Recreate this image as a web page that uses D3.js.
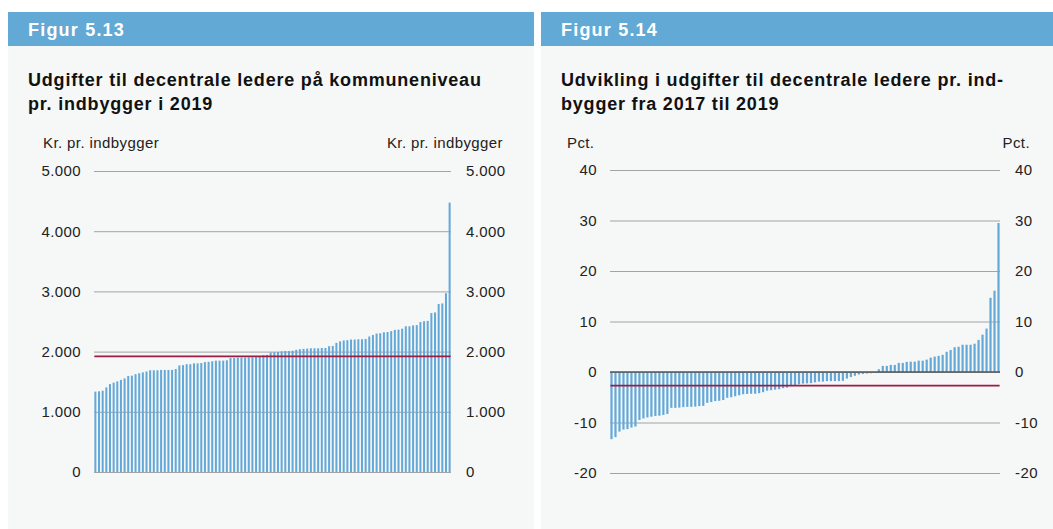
<!DOCTYPE html>
<html>
<head>
<meta charset="utf-8">
<script src="https://cdn.jsdelivr.net/npm/d3@7"></script>
<style>
  body { margin: 0; background: #fff; }
  svg { display: block; font-family: "Liberation Sans", Arial, sans-serif; }
</style>
</head>
<body>
<svg id="chart" width="1053" height="529"></svg>
<script>
"use strict";

// kommuner sorteret efter værdi (98 kommuner)
var kommuner = d3.range(1, 99);

// Figur 5.13: kr. pr. indbygger 2019
var udgifter2019 = [1335, 1340, 1350, 1405, 1460, 1485, 1505, 1530, 1555, 1595,
	1600, 1625, 1640, 1655, 1670, 1690, 1690, 1690, 1695, 1695,
	1695, 1695, 1710, 1770, 1775, 1790, 1790, 1805, 1805, 1810,
	1825, 1830, 1840, 1850, 1850, 1850, 1855, 1895, 1895, 1900,
	1900, 1900, 1905, 1905, 1910, 1910, 1940, 1945, 1985, 1990,
	1995, 2005, 2010, 2010, 2015, 2030, 2040, 2045, 2050, 2055,
	2055, 2055, 2060, 2060, 2090, 2095, 2145, 2170, 2185, 2190,
	2200, 2200, 2205, 2205, 2210, 2250, 2275, 2300, 2305, 2320,
	2325, 2340, 2360, 2365, 2380, 2420, 2420, 2435, 2440, 2490,
	2505, 2510, 2640, 2650, 2790, 2800, 2970, 4475];
var gnsUdgift = 1920;
var ticksKr = [0, 1000, 2000, 3000, 4000, 5000];

// Figur 5.14: udvikling i pct. 2017-2019
var udvikling = [-13.3, -12.9, -11.8, -11.4, -11.3, -11.0, -10.8, -9.5, -9.2, -9.0,
	-8.85, -8.7, -8.65, -8.5, -8.3, -7.1, -7.1, -7.05, -6.95, -6.9,
	-6.9, -6.85, -6.75, -6.7, -6.1, -5.95, -5.75, -5.7, -5.55, -5.1,
	-5.0, -4.8, -4.6, -4.4, -4.35, -4.3, -4.3, -4.2, -4.0, -3.7,
	-3.6, -3.5, -3.4, -3.2, -3.1, -2.8, -2.6, -2.45, -2.3, -2.25,
	-2.2, -2.05, -1.9, -1.9, -1.8, -1.8, -1.8, -1.8, -1.75, -1.3,
	-1.0, -0.75, -0.5, -0.4, -0.3, -0.25, -0.1, 0.55, 1.2, 1.2,
	1.4, 1.4, 1.8, 1.8, 2.0, 2.05, 2.05, 2.25, 2.25, 2.45,
	2.85, 3.05, 3.2, 3.4, 4.0, 4.35, 4.9, 5.0, 5.4, 5.4,
	5.4, 5.6, 6.35, 7.4, 8.6, 14.7, 16.1, 29.5];
var gnsUdvikling = -2.7;
var ticksPct = [-20, -10, 0, 10, 20, 30, 40];

var da = d3.formatLocale({ decimal: ",", thousands: ".", grouping: [3], currency: ["", " kr."], minus: "-" });

var bar_color = "#64a8d8",
	avg_color = "#9b1d45",
	grid_color = "#a3a3a3",
	header_color = "#63a9d5",
	panel_color = "#f6f7f7";

var svg = d3.select("#chart");

function styleLabels(sel) {
	sel.attr("font-size", 15)
		.attr("letter-spacing", 0.4)
		.attr("fill", "#222")
		.attr("font-family", "Liberation Sans, Arial, sans-serif");
}

function drawPanel(p) {
	var g = svg.append("g");

	g.append("rect")
		.attr("x", p.x0).attr("y", 12)
		.attr("width", p.x1 - p.x0).attr("height", 517)
		.attr("fill", panel_color);
	g.append("rect")
		.attr("x", p.x0).attr("y", 12)
		.attr("width", p.x1 - p.x0).attr("height", 34)
		.attr("fill", header_color);

	g.append("text")
		.attr("x", p.x0 + 20).attr("y", 36)
		.attr("fill", "#fff")
		.attr("font-weight", "bold")
		.attr("font-size", 18)
		.attr("letter-spacing", 1.2)
		.text(p.figur);

	g.append("text")
		.attr("font-weight", "bold")
		.attr("font-size", 18)
		.attr("letter-spacing", 0.8)
		.attr("fill", "#111")
		.selectAll("tspan")
		.data(p.title)
		.join("tspan")
			.attr("x", p.x0 + 20)
			.attr("y", function(d, i) { return 86 + i * 24; })
			.text(function(d) { return d; });

	// enhed over akserne
	g.append("text")
		.attr("x", p.unitLeft).attr("y", 148)
		.call(styleLabels)
		.text(p.unit);
	g.append("text")
		.attr("x", p.unitRight).attr("y", 148)
		.attr("text-anchor", "end")
		.call(styleLabels)
		.text(p.unit);

	var x = d3.scaleBand()
		.domain(kommuner)
		.range([p.gx0, p.gx1])
		.paddingInner(0.45)
		.paddingOuter(0.1);

	var y = d3.scaleLinear()
		.domain(p.domain)
		.range([p.yBottom, p.yTop]);

	var gridAxis = d3.axisLeft(y)
		.tickValues(p.ticks)
		.tickSize(-(p.gx1 - p.gx0))
		.tickPadding(13)
		.tickFormat(p.fmt);

	var ga = g.append("g")
		.attr("transform", "translate(" + p.gx0 + ",0)")
		.call(gridAxis);
	ga.select(".domain").remove();
	ga.selectAll(".tick line")
		.attr("stroke", grid_color)
		.attr("stroke-width", 1);
	ga.selectAll(".tick text").call(styleLabels);

	var ra = g.append("g")
		.attr("transform", "translate(" + p.gx1 + ",0)")
		.call(d3.axisRight(y).tickValues(p.ticks).tickSize(0).tickPadding(15).tickFormat(p.fmt));
	ra.select(".domain").remove();
	ra.selectAll(".tick text").call(styleLabels);

	g.append("g")
		.selectAll("rect")
		.data(p.values)
		.join("rect")
			.attr("x", function(d, i) { return x(kommuner[i]); })
			.attr("width", x.bandwidth())
			.attr("y", function(d) { return y(Math.max(0, d)); })
			.attr("height", function(d) { return Math.abs(y(d) - y(0)); })
			.attr("fill", bar_color);

	if (p.domain[0] < 0) {
		g.append("line")
			.attr("x1", p.gx0).attr("x2", p.gx1)
			.attr("y1", y(0)).attr("y2", y(0))
			.attr("stroke", "#555").attr("stroke-width", 1.4);
	}

	g.append("line")
		.attr("x1", x(kommuner[0])).attr("x2", x(kommuner[kommuner.length - 1]) + x.bandwidth())
		.attr("y1", y(p.avg)).attr("y2", y(p.avg))
		.attr("stroke", avg_color).attr("stroke-width", 1.8);
}

drawPanel({
	x0: 8, x1: 534,
	figur: "Figur 5.13",
	title: ["Udgifter til decentrale ledere på kommuneniveau", "pr. indbygger i 2019"],
	unit: "Kr. pr. indbygger", unitLeft: 43, unitRight: 503,
	gx0: 94, gx1: 451, yTop: 171, yBottom: 472,
	domain: [0, 5000], ticks: ticksKr, fmt: da.format(",.0f"),
	values: udgifter2019, avg: gnsUdgift
});

drawPanel({
	x0: 541, x1: 1053,
	figur: "Figur 5.14",
	title: ["Udvikling i udgifter til decentrale ledere pr. ind-", "bygger fra 2017 til 2019"],
	unit: "Pct.", unitLeft: 567, unitRight: 1030,
	gx0: 610, gx1: 1000, yTop: 170, yBottom: 473,
	domain: [-20, 40], ticks: ticksPct, fmt: da.format("d"),
	values: udvikling, avg: gnsUdvikling
});
</script>
</body>
</html>
